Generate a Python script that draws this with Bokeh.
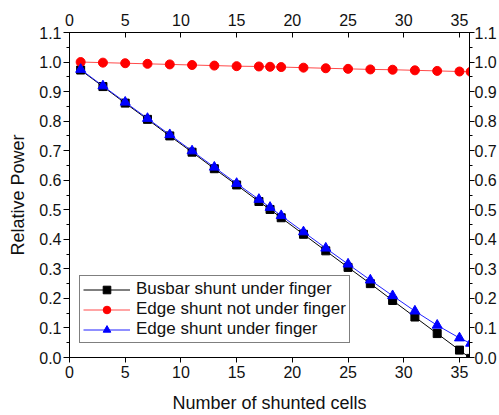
from bokeh.plotting import figure
from bokeh.models import LinearAxis, SingleIntervalTicker, Range1d, Legend, LegendItem, PrintfTickFormatter
from bokeh.embed import file_html
from bokeh.resources import INLINE

# ---- data ----
cells = [1, 3, 5, 7, 9, 11, 13, 15, 17, 18, 19, 21, 23, 25, 27, 29, 31, 33, 35, 36]
busbar_under = [0.973, 0.917, 0.861, 0.806, 0.750, 0.695, 0.639, 0.584, 0.528, 0.501,
                0.473, 0.417, 0.361, 0.305, 0.250, 0.193, 0.137, 0.081, 0.025, -0.003]
edge_not_under = [1.000, 0.998, 0.996, 0.994, 0.992, 0.990, 0.988, 0.986, 0.985, 0.984,
                  0.983, 0.981, 0.979, 0.977, 0.975, 0.974, 0.972, 0.970, 0.968, 0.967]
edge_under = [0.975, 0.919, 0.864, 0.809, 0.754, 0.699, 0.644, 0.589, 0.535, 0.508,
              0.480, 0.425, 0.370, 0.316, 0.262, 0.209, 0.157, 0.109, 0.066, 0.048]
series_names = ["Busbar shunt under finger", "Edge shunt not under finger", "Edge shunt under finger"]

FONT = "Liberation Sans"

p = figure(width=499, height=415, output_backend="svg", toolbar_location=None,
           x_range=Range1d(0, 35.9), y_range=Range1d(0, 1.1),
           min_border_left=69, min_border_right=29, min_border_top=32, min_border_bottom=57,
           x_axis_label="Number of shunted cells", y_axis_label="Relative Power")
p.grid.visible = False
p.outline_line_color = "black"
p.background_fill_color = "white"
p.border_fill_color = "white"

xt = SingleIntervalTicker(interval=5, num_minor_ticks=0)
yt = SingleIntervalTicker(interval=0.1, num_minor_ticks=2)
yf = PrintfTickFormatter(format="%.1f")

top = LinearAxis(ticker=xt)
right = LinearAxis(ticker=yt, formatter=yf)
p.add_layout(top, "above")
p.add_layout(right, "right")

for ax in p.xaxis:
    ax.ticker = xt
for ax in p.yaxis:
    ax.ticker = yt
    ax.formatter = yf

for ax in list(p.xaxis) + list(p.yaxis):
    ax.axis_line_color = "black"
    ax.major_tick_line_color = "black"
    ax.minor_tick_line_color = "black"
    ax.major_label_text_font = FONT
    ax.major_label_text_font_size = "16px"
    ax.major_label_text_color = "#111111"
    ax.axis_label_text_font = FONT
    ax.axis_label_text_font_size = "18px"
    ax.axis_label_text_font_style = "normal"
    ax.axis_label_text_color = "#111111"

# bottom axis
bx = p.below[0]
bx.major_tick_out = 5
bx.major_tick_in = 0
bx.major_label_standoff = 3
bx.axis_label_standoff = 12

# top axis
top.major_tick_in = 5
top.major_tick_out = 0
top.major_label_standoff = 7

# left axis
ly = p.left[0]
ly.major_tick_out = 6
ly.major_tick_in = 0
ly.minor_tick_out = 3
ly.minor_tick_in = 0
ly.major_label_standoff = 2
ly.axis_label_standoff = 8

# right axis
right.major_tick_out = 5
right.major_tick_in = 0
right.minor_tick_out = 3
right.minor_tick_in = 0
right.major_label_standoff = 0

# series
l1 = p.line(cells, busbar_under, line_color="black", line_width=1)
m1 = p.scatter(cells, busbar_under, marker="square", size=8, fill_color="black", line_color="black")
l2 = p.line(cells, edge_not_under, line_color="#ff4a4a", line_width=1)
m2 = p.scatter(cells, edge_not_under, marker="circle", size=9, fill_color="red", line_color="red")
l3 = p.line(cells, edge_under, line_color="#2020ff", line_width=1)
m3 = p.scatter(cells, edge_under, marker="triangle", size=10, fill_color="blue", line_color="blue")

legend = Legend(items=[
    LegendItem(label=series_names[0], renderers=[l1, m1]),
    LegendItem(label=series_names[1], renderers=[l2, m2]),
    LegendItem(label=series_names[2], renderers=[l3, m3]),
], location=(10, 14))
legend.label_text_font = FONT
legend.label_text_font_size = "17px"
legend.label_text_color = "#111111"
legend.glyph_width = 47
legend.glyph_height = 19
legend.label_height = 19
legend.label_standoff = 6
legend.padding = 3
legend.spacing = 0
legend.margin = 0
legend.border_line_color = "black"
legend.border_line_width = 1
legend.background_fill_color = "white"
legend.background_fill_alpha = 1
p.add_layout(legend)

open("out.html", "w").write(file_html(p, INLINE))
